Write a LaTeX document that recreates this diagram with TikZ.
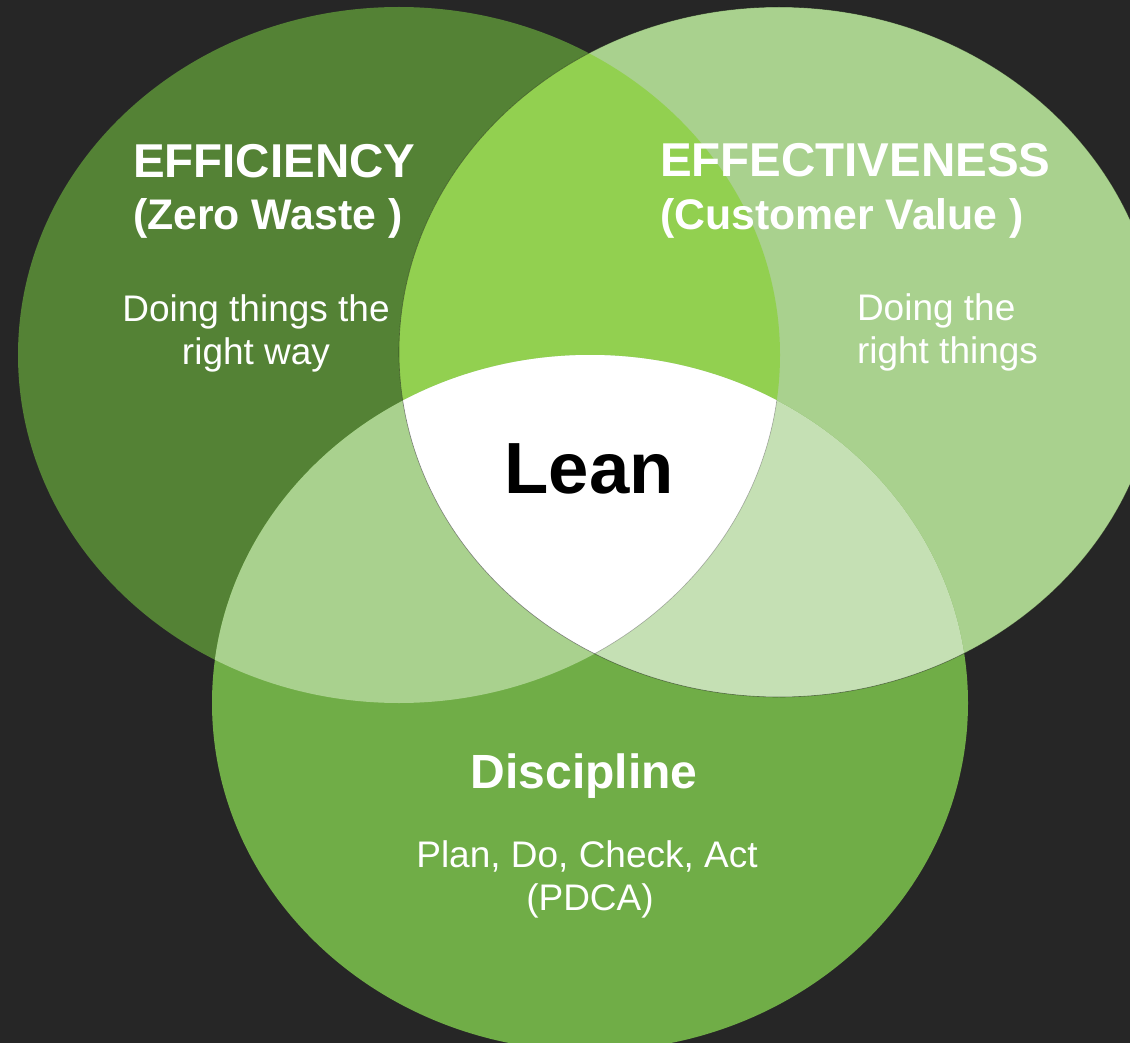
\documentclass[tikz,border=0pt]{standalone}
\usepackage{fontspec}
\setmainfont{Liberation Sans}
\definecolor{bgc}{HTML}{262626}
\definecolor{colL}{HTML}{548235}
\definecolor{colR}{HTML}{A9D18E}
\definecolor{colB}{HTML}{70AD47}
\definecolor{colLR}{HTML}{92D050}
\definecolor{colLB}{HTML}{A9D18E}
\definecolor{colRB}{HTML}{C5E0B4}
\begin{document}
\begin{tikzpicture}[x=1pt,y=-1pt,
  txt/.style={text=white, inner sep=0pt, outer sep=0pt},
  head/.style={txt, font=\fontsize{47.5}{47.5}\selectfont\bfseries, anchor=base west},
  subhead/.style={txt, font=\fontsize{42.8}{42.8}\selectfont\bfseries, anchor=base west},
  bodytxt/.style={txt, font=\fontsize{37}{37}\selectfont},
  edgeline/.style={draw=black, draw opacity=0.45, line width=0.6pt}
]
\useasboundingbox (0,0) rectangle (1130,1043);
\fill[bgc] (0,0) rectangle (1130,1043);

% base ellipses
\fill[colL] (399,355) ellipse [x radius=381pt, y radius=348pt];
\fill[colR] (779,352) ellipse [x radius=380pt, y radius=345pt];
\fill[colB] (590,703) ellipse [x radius=378pt, y radius=348pt];

% left & right
\begin{scope}
  \clip (399,355) ellipse [x radius=381pt, y radius=348pt];
  \fill[colLR] (779,352) ellipse [x radius=380pt, y radius=345pt];
\end{scope}
% left & bottom
\begin{scope}
  \clip (399,355) ellipse [x radius=381pt, y radius=348pt];
  \fill[colLB] (590,703) ellipse [x radius=378pt, y radius=348pt];
\end{scope}
% right & bottom
\begin{scope}
  \clip (779,352) ellipse [x radius=380pt, y radius=345pt];
  \fill[colRB] (590,703) ellipse [x radius=378pt, y radius=348pt];
\end{scope}
% all three
\begin{scope}
  \clip (399,355) ellipse [x radius=381pt, y radius=348pt];
  \clip (779,352) ellipse [x radius=380pt, y radius=345pt];
  \fill[white] (590,703) ellipse [x radius=378pt, y radius=348pt];
\end{scope}

% faint outlines
\draw[edgeline] (779,352) ellipse [x radius=380pt, y radius=345pt];
\begin{scope}
  \clip (779,352) ellipse [x radius=380pt, y radius=345pt];
  \clip (590,703) ellipse [x radius=378pt, y radius=348pt];
  \draw[edgeline, draw opacity=0.3] (399,355) ellipse [x radius=381pt, y radius=348pt];
\end{scope}

% texts
\node[head] (eff) at (133,178) {EFFICIENCY};
\node[subhead] (zw) at (133,230) {(Zero Waste )};
\node[bodytxt, anchor=base] (l1) at (256,321) {Doing things the};
\node[bodytxt, anchor=base] (l2) at (256,364) {right way};

\node[head] (effe) at (660,177) {EFFECTIVENESS};
\node[subhead] (cv) at (660,230) {(Customer Value )};
\node[bodytxt, anchor=base west] (r1) at (857,320) {Doing the};
\node[bodytxt, anchor=base west] (r2) at (857,363) {right things};

\node[txt, text=black, font=\fontsize{72.5}{72.5}\selectfont\bfseries, anchor=base] (lean) at (589,493) {Lean};

\node[txt, font=\fontsize{48}{48}\selectfont\bfseries, anchor=base] (disc) at (584,788) {Discipline};
\node[bodytxt, anchor=base] (b1) at (587,867) {Plan, Do, Check, Act};
\node[bodytxt, anchor=base] (b2) at (590,910) {(PDCA)};
\end{tikzpicture}
\end{document}
